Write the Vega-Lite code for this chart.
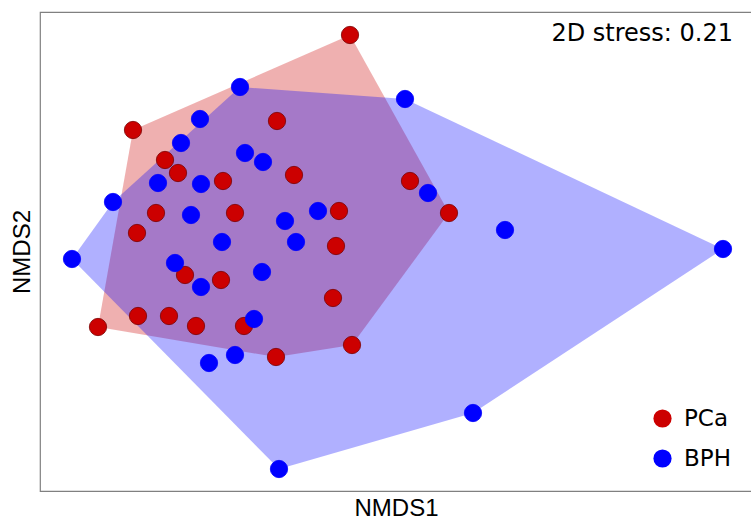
{
  "$schema": "https://vega.github.io/schema/vega-lite/v6.json",
  "width": 712,
  "height": 479,
  "autosize": {"type": "none"},
  "padding": {"left": 40, "top": 12, "right": 0, "bottom": 28},
  "background": "white",
  "config": {
    "view": {"stroke": "#808080", "strokeWidth": 1.2},
    "axis": {"grid": false, "ticks": false, "labels": false, "domain": false,
             "titleFont": "Liberation Sans", "titleFontSize": 24, "titleFontWeight": "normal", "titleColor": "#000000"}
  },
  "datasets": {
    "points": [
      {"group": "PCa", "x": 350, "y": 456}, {"group": "PCa", "x": 133, "y": 361}, {"group": "PCa", "x": 277, "y": 370},
      {"group": "PCa", "x": 165, "y": 331}, {"group": "PCa", "x": 178, "y": 318}, {"group": "PCa", "x": 223, "y": 310},
      {"group": "PCa", "x": 294, "y": 316}, {"group": "PCa", "x": 156, "y": 278}, {"group": "PCa", "x": 235, "y": 278},
      {"group": "PCa", "x": 339, "y": 280}, {"group": "PCa", "x": 137, "y": 258}, {"group": "PCa", "x": 410, "y": 310},
      {"group": "PCa", "x": 449, "y": 278}, {"group": "PCa", "x": 336, "y": 245}, {"group": "PCa", "x": 185, "y": 216},
      {"group": "PCa", "x": 221, "y": 211}, {"group": "PCa", "x": 333, "y": 193}, {"group": "PCa", "x": 98, "y": 164},
      {"group": "PCa", "x": 138, "y": 175}, {"group": "PCa", "x": 169, "y": 175}, {"group": "PCa", "x": 196, "y": 165},
      {"group": "PCa", "x": 244, "y": 165}, {"group": "PCa", "x": 276, "y": 134}, {"group": "PCa", "x": 352, "y": 146},
      {"group": "BPH", "x": 240, "y": 404}, {"group": "BPH", "x": 200, "y": 372}, {"group": "BPH", "x": 181, "y": 348},
      {"group": "BPH", "x": 245, "y": 338}, {"group": "BPH", "x": 263, "y": 329}, {"group": "BPH", "x": 158, "y": 308},
      {"group": "BPH", "x": 201, "y": 307}, {"group": "BPH", "x": 113, "y": 289}, {"group": "BPH", "x": 405, "y": 392},
      {"group": "BPH", "x": 191, "y": 276}, {"group": "BPH", "x": 318, "y": 280}, {"group": "BPH", "x": 285, "y": 270},
      {"group": "BPH", "x": 222, "y": 249}, {"group": "BPH", "x": 296, "y": 249}, {"group": "BPH", "x": 72, "y": 232},
      {"group": "BPH", "x": 175, "y": 228}, {"group": "BPH", "x": 262, "y": 219}, {"group": "BPH", "x": 201, "y": 204},
      {"group": "BPH", "x": 254, "y": 172}, {"group": "BPH", "x": 235, "y": 136}, {"group": "BPH", "x": 209, "y": 128},
      {"group": "BPH", "x": 279, "y": 22}, {"group": "BPH", "x": 428, "y": 298}, {"group": "BPH", "x": 505, "y": 261},
      {"group": "BPH", "x": 723, "y": 242}, {"group": "BPH", "x": 473, "y": 78}
    ],
    "hulls": [
      {"group": "PCa", "k": 1, "x": 133, "y": 361}, {"group": "PCa", "k": 2, "x": 350, "y": 456},
      {"group": "PCa", "k": 3, "x": 449, "y": 278}, {"group": "PCa", "k": 4, "x": 352, "y": 146},
      {"group": "PCa", "k": 5, "x": 276, "y": 134}, {"group": "PCa", "k": 6, "x": 98, "y": 164},
      {"group": "BPH", "k": 1, "x": 72, "y": 232}, {"group": "BPH", "k": 2, "x": 113, "y": 289},
      {"group": "BPH", "k": 3, "x": 240, "y": 404}, {"group": "BPH", "k": 4, "x": 405, "y": 392},
      {"group": "BPH", "k": 5, "x": 723, "y": 242}, {"group": "BPH", "k": 6, "x": 473, "y": 78},
      {"group": "BPH", "k": 7, "x": 279, "y": 22}
    ],
    "note": [{"label": "2D stress: 0.21", "x": 733, "y": 450}]
  },
  "layer": [
    {
      "data": {"name": "hulls"},
      "transform": [{"filter": "datum.group === 'PCa'"}],
      "mark": {"type": "line", "interpolate": "linear-closed", "fill": "#cc0000", "fillOpacity": 0.31, "strokeWidth": 0, "strokeOpacity": 0},
      "encoding": {
        "x": {"field": "x", "type": "quantitative", "scale": {"domain": [40, 752], "nice": false, "zero": false}, "title": "NMDS1", "axis": {"titlePadding": 5}},
        "y": {"field": "y", "type": "quantitative", "scale": {"domain": [0, 479], "nice": false, "zero": false}, "title": "NMDS2", "axis": {"titlePadding": 6}},
        "order": {"field": "k", "type": "quantitative"}
      }
    },
    {
      "data": {"name": "hulls"},
      "transform": [{"filter": "datum.group === 'BPH'"}],
      "mark": {"type": "line", "interpolate": "linear-closed", "fill": "#0000ff", "fillOpacity": 0.31, "strokeWidth": 0, "strokeOpacity": 0},
      "encoding": {
        "x": {"field": "x", "type": "quantitative"},
        "y": {"field": "y", "type": "quantitative"},
        "order": {"field": "k", "type": "quantitative"}
      }
    },
    {
      "data": {"name": "points"},
      "mark": {"type": "point", "filled": true, "opacity": 1, "strokeWidth": 0.8},
      "encoding": {
        "x": {"field": "x", "type": "quantitative"},
        "y": {"field": "y", "type": "quantitative"},
        "size": {"value": 300},
        "color": {
          "field": "group", "type": "nominal",
          "scale": {"domain": ["PCa", "BPH"], "range": ["#cc0000", "#0000ff"]},
          "legend": {
            "title": null, "orient": "none", "legendX": 611, "legendY": 395,
            "symbolType": "circle", "symbolSize": 330, "symbolStrokeWidth": 0,
            "labelFont": "DejaVu Sans", "labelFontSize": 23, "labelColor": "#000000",
            "labelOffset": 10, "rowPadding": 16, "padding": 0
          }
        },
        "stroke": {
          "field": "group", "type": "nominal",
          "scale": {"domain": ["PCa", "BPH"], "range": ["#7a0000", "#0000ff"]},
          "legend": null
        }
      }
    },
    {
      "data": {"name": "note"},
      "mark": {"type": "text", "align": "right", "baseline": "alphabetic", "font": "DejaVu Sans", "fontSize": 24, "color": "#000000"},
      "encoding": {
        "x": {"field": "x", "type": "quantitative"},
        "y": {"field": "y", "type": "quantitative"},
        "text": {"field": "label"}
      }
    }
  ]
}
